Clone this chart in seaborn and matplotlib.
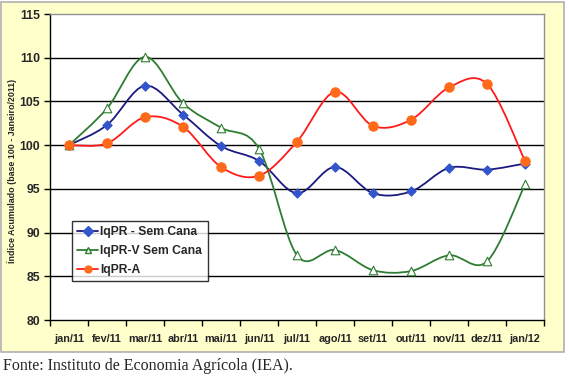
import numpy as np
import pandas as pd
import matplotlib.pyplot as plt
import seaborn as sns
from matplotlib.path import Path
from matplotlib.patches import PathPatch, Rectangle
from matplotlib.lines import Line2D

meses = ['jan/11', 'fev/11', 'mar/11', 'abr/11', 'mai/11', 'jun/11', 'jul/11',
         'ago/11', 'set/11', 'out/11', 'nov/11', 'dez/11', 'jan/12']
iqpr = [100, 102.3, 106.8, 103.5, 99.9, 98.2, 94.5, 97.5, 94.5, 94.7, 97.4, 97.2, 97.9]
iqpr_v = [100, 104.2, 110.1, 104.8, 102.0, 99.6, 87.4, 88.0, 85.7, 85.6, 87.4, 86.7, 95.5]
iqpr_a = [100, 100.2, 103.2, 102.1, 97.5, 96.5, 100.4, 106.1, 102.2, 102.9, 106.6, 107.0, 98.2]

series = ['IqPR - Sem Cana', 'IqPR-V Sem Cana', 'IqPR-A']
df = pd.DataFrame({'x': list(range(len(meses))) * 3,
                   'valor': iqpr + iqpr_v + iqpr_a,
                   'serie': [s for s in series for _ in meses]})

linhas = {'IqPR - Sem Cana': '#1a1a80', 'IqPR-V Sem Cana': '#2e7d32', 'IqPR-A': '#ff1a1a'}
marcas = {'IqPR - Sem Cana': 'D', 'IqPR-V Sem Cana': '^', 'IqPR-A': 'o'}
face = {'IqPR - Sem Cana': '#3355cc', 'IqPR-V Sem Cana': 'white', 'IqPR-A': '#ff6a1a'}
borda = {'IqPR - Sem Cana': '#3355cc', 'IqPR-V Sem Cana': '#2e7d32', 'IqPR-A': '#ff6a1a'}
tam = {'IqPR - Sem Cana': 22, 'IqPR-V Sem Cana': 38, 'IqPR-A': 45}

sns.set_style('white')
plt.rcParams['font.family'] = ['Liberation Sans', 'DejaVu Sans']

fig = plt.figure(figsize=(5.69, 3.81), dpi=100)
fig.patches.append(Rectangle((0.002, 1 - 352 / 381), 0.99, 352 / 381 - 0.004,
                             transform=fig.transFigure, facecolor='#ffffcc',
                             edgecolor='#b0b0b0', lw=1.2, zorder=-1))
ax = fig.add_axes([50 / 569, 1 - 320 / 381, 494 / 569, 306 / 381])
ax.set_facecolor('white')


def suave(ax, ys, cor):
    # curva suavizada estilo Excel (Bezier cubica)
    pts = np.column_stack([np.arange(len(ys)), ys]).astype(float)
    verts = [pts[0]]
    codes = [Path.MOVETO]
    n = len(pts)
    for i in range(n - 1):
        p0 = pts[max(i - 1, 0)]
        p1 = pts[i]
        p2 = pts[i + 1]
        p3 = pts[min(i + 2, n - 1)]
        c1 = p1 + (p2 - p0) / 6
        c2 = p2 - (p3 - p1) / 6
        verts += [c1, c2, p2]
        codes += [Path.CURVE4] * 3
    ax.add_patch(PathPatch(Path(verts, codes), facecolor='none',
                           edgecolor=cor, lw=1.3, zorder=3))


for s, ys in zip(series, [iqpr, iqpr_v, iqpr_a]):
    suave(ax, ys, linhas[s])
    sns.scatterplot(data=df[df.serie == s], x='x', y='valor', ax=ax,
                    marker=marcas[s], color=face[s], edgecolor=borda[s],
                    linewidth=0.8, s=tam[s], zorder=4, legend=False)

ax.set_xlim(-0.5, 12.5)
ax.set_ylim(80, 115)
ax.set_yticks(np.arange(80, 116, 5))
ax.set_yticklabels([str(v) for v in range(80, 116, 5)], fontweight='bold', fontsize=8.8)
for v in range(85, 115, 5):
    ax.axhline(v, color='black', lw=1, zorder=1)

ax.set_xticks(np.arange(-0.5, 13, 1))
ax.set_xticklabels([])
ax.set_xticks(np.arange(13), minor=True)
ax.set_xticklabels(meses, minor=True, fontweight='bold', fontsize=7.8)
ax.tick_params(axis='x', which='major', direction='out', length=4, width=1, color='black', bottom=True)
ax.tick_params(axis='x', which='minor', length=0, pad=10)
ax.tick_params(axis='y', direction='out', length=4, width=1, color='black', left=True, pad=3)

ax.set_xlabel('')
ax.set_ylabel('')
fig.text(12 / 569, 1 - 171 / 381, 'Índice Acumulado (base 100 - Janeiro/2011)',
         rotation=90, fontsize=6.4, fontweight='bold', ha='center', va='center')

for lado in ['left', 'bottom']:
    ax.spines[lado].set_color('black')
    ax.spines[lado].set_linewidth(1)
for lado in ['top', 'right']:
    ax.spines[lado].set_color('#909090')
    ax.spines[lado].set_linewidth(1)

handles = [Line2D([], [], color=linhas[s], marker=marcas[s], markerfacecolor=face[s],
                  markeredgecolor=borda[s], markersize=5, lw=1.3) for s in series]
leg = ax.legend(handles, series, loc='upper left', bbox_to_anchor=(0.0445, 0.3235),
                borderaxespad=0, frameon=True, fancybox=False,
                handlelength=1.7, handletextpad=0.2, labelspacing=0.55,
                borderpad=0.45, prop={'weight': 'bold', 'size': 8.7})
leg.get_frame().set_edgecolor('black')
leg.get_frame().set_linewidth(1)
leg.set_zorder(5)

fig.text(3 / 569, 1 - 366 / 381, 'Fonte: Instituto de Economia Agrícola (IEA).',
         family='Liberation Serif', fontsize=11.5, va='center', ha='left')

fig.savefig('out.png', dpi=100)
